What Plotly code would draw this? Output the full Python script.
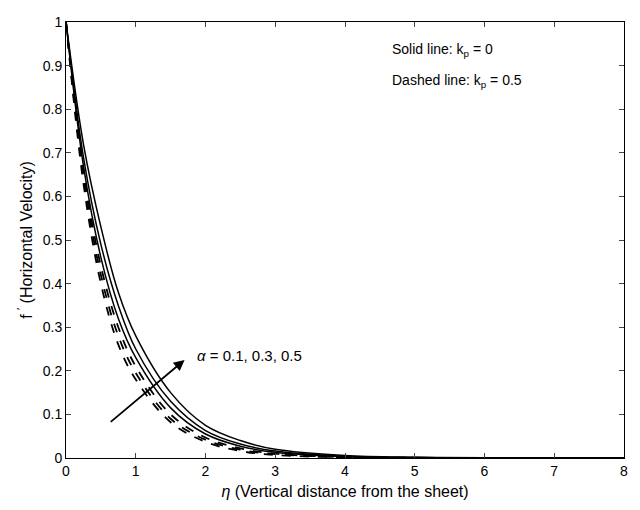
import plotly.graph_objects as go

eta = [0, 0.25, 0.5, 0.75, 1, 1.5, 2, 2.5, 3, 4, 5, 6, 8]
solid_a05 = [1, .72, .53, .38, .28, .15, .075, .04, .02, .006, .002, .0005, 0]
solid_a03 = [1, .69, .49, .35, .25, .13, .063, .032, .016, .004, .001, .0003, 0]
solid_a01 = [1, .67, .46, .32, .23, .115, .055, .027, .013, .003, .001, 0, 0]
dash_a05 = [1, .66, .44, .30, .21, .10, .047, .022, .01, .002, .0005, 0, 0]
dash_a03 = [1, .645, .42, .28, .195, .09, .042, .019, .009, .002, 0, 0, 0]
dash_a01 = [1, .63, .40, .26, .18, .082, .037, .016, .007, .0015, 0, 0, 0]

fig = go.Figure()
for ys in [solid_a01, solid_a03, solid_a05]:
    fig.add_trace(go.Scatter(x=eta, y=ys, mode="lines", line=dict(color="black", width=1.5, shape="spline")))
for ys in [dash_a01, dash_a03, dash_a05]:
    fig.add_trace(go.Scatter(x=eta, y=ys, mode="lines", line=dict(color="black", width=1.8, dash="dash", shape="spline")))

fig.add_annotation(x=1.7, y=0.225, ax=0.62, ay=0.08, xref="x", yref="y", axref="x", ayref="y",
                   showarrow=True, arrowhead=2, arrowsize=1.2, arrowwidth=1.8, arrowcolor="black", text="")
fig.add_annotation(x=1.85, y=0.235, xref="x", yref="y", showarrow=False, xanchor="left",
                   text="<i>α</i> = 0.1, 0.3, 0.5", font=dict(size=15, color="black"))
fig.add_annotation(x=4.65, y=0.935, xref="x", yref="y", showarrow=False, xanchor="left",
                   text="Solid line: k<sub>p</sub> = 0", font=dict(size=14, color="black"))
fig.add_annotation(x=4.65, y=0.865, xref="x", yref="y", showarrow=False, xanchor="left",
                   text="Dashed line: k<sub>p</sub> = 0.5", font=dict(size=14, color="black"))

ax = dict(showline=True, linecolor="black", mirror="ticks", ticks="inside", ticklen=5,
          showgrid=False, zeroline=False, tickfont=dict(size=14, color="black"))
fig.update_xaxes(range=[0, 8], dtick=1, title=dict(text="<i>η</i> (Vertical distance from the sheet)", font=dict(size=16, color="black"), standoff=8), **ax)
fig.update_yaxes(range=[0, 1], dtick=0.1, title=dict(text="f <sup>′</sup> (Horizontal Velocity)", font=dict(size=16, color="black"), standoff=6), **ax)
fig.update_layout(width=640, height=510, showlegend=False, plot_bgcolor="white", paper_bgcolor="white",
                  margin=dict(l=58, r=24, t=14, b=60, autoexpand=False), font=dict(family="Liberation Sans"))
fig.write_html("out.html")
